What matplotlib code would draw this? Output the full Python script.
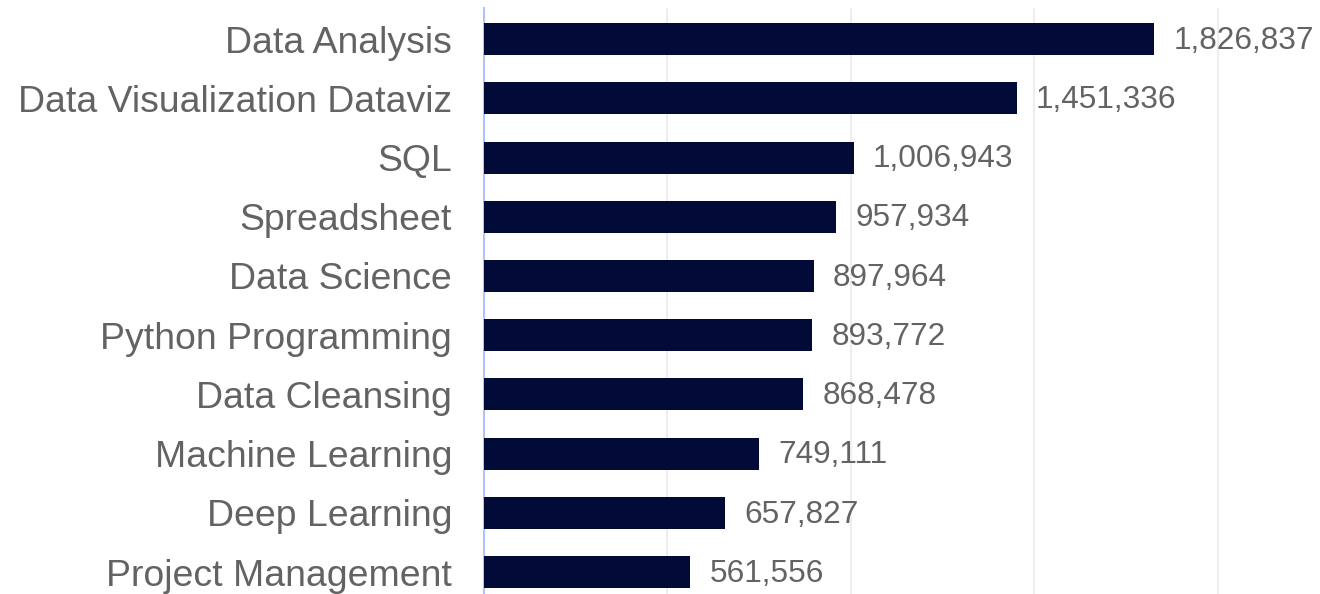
import matplotlib
matplotlib.use("Agg")
import matplotlib.pyplot as plt

categories = ["Data Analysis", "Data Visualization Dataviz", "SQL", "Spreadsheet",
              "Data Science", "Python Programming", "Data Cleansing",
              "Machine Learning", "Deep Learning", "Project Management"]
values = [1826837, 1451336, 1006943, 957934, 897964, 893772, 868478,
          749111, 657827, 561556]

plt.rcParams['font.family'] = ['Liberation Sans', 'DejaVu Sans']

fig = plt.figure(figsize=(13.2, 5.94), dpi=100)
ax = fig.add_axes([484/1320, 0.0, (1291.4-484)/1320, (594-8)/594])

y = list(range(len(categories)))
ax.barh(y, values, height=0.54, color="#020b38", zorder=3)
ax.set_ylim(9.37, -0.525)
ax.set_xlim(0, 2200000)
ax.set_xticks([500000, 1000000, 1500000, 2000000])
ax.xaxis.grid(True, color="#eeeeee", linewidth=1.5, zorder=0)
ax.tick_params(axis='x', length=0, labelbottom=False)
ax.tick_params(axis='y', length=0, pad=23, labelsize=26.9, labelcolor="#636363")
ax.set_yticks(y)
ax.set_yticklabels(categories)
for s in ["top", "right", "bottom"]:
    ax.spines[s].set_visible(False)
ax.spines["left"].set_color("#b4c0ff")
ax.spines["left"].set_linewidth(1.5)

for yi, v in zip(y, values):
    ax.annotate(f"{v:,}", xy=(v, yi), xytext=(14, -1.2), textcoords="offset points",
                va="center", ha="left", fontsize=22.7, color="#636363")

fig.savefig("out.png", dpi=100)
